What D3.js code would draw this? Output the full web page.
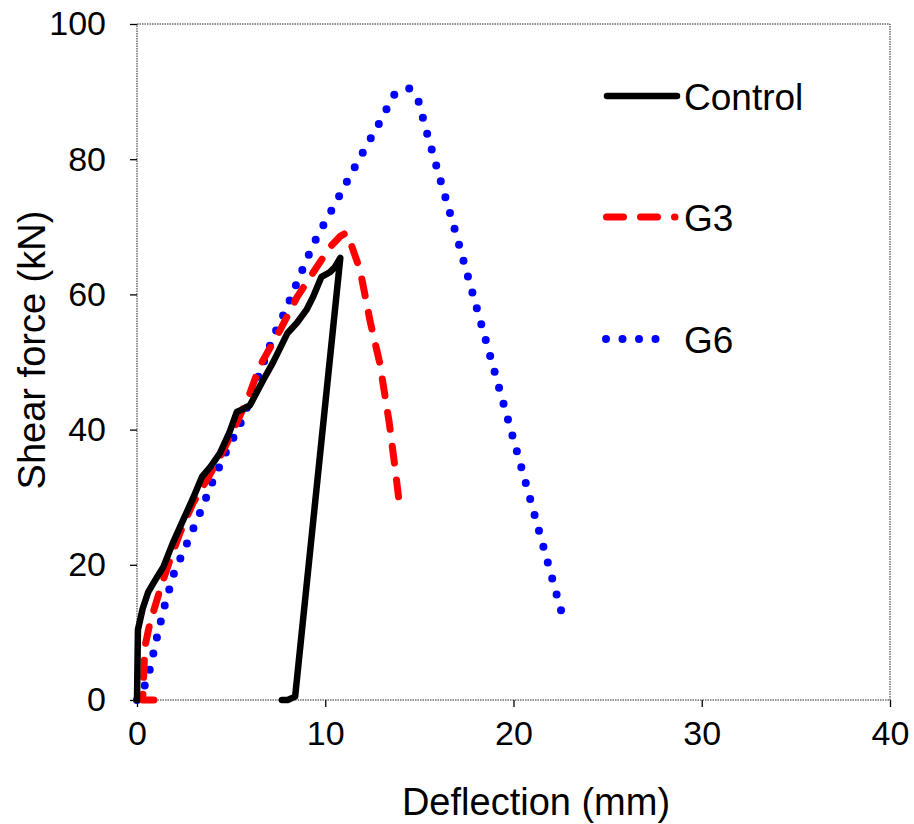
<!DOCTYPE html>
<html>
<head>
<meta charset="utf-8">
<script src="https://cdn.jsdelivr.net/npm/d3@7"></script>
<style>
  body { margin: 0; background: #fff; }
  text { font-family: "Liberation Sans", Arial, sans-serif; fill: #000; }
</style>
</head>
<body>
<div id="chart"></div>
<script>
//////////////////////////// data /////////////////////////////////////////

const seriesNames = ["Control", "G3", "G6"];

// deflection (mm), shear force (kN)
const controlData = [
  [0.0, 0], [0.05, 10.4], [0.3, 13.5], [0.6, 16.0], [0.96, 17.7], [1.4, 19.7],
  [1.9, 23.2], [2.45, 26.6], [3.0, 30.0], [3.45, 33.0], [3.9, 34.5], [4.4, 36.5],
  [4.9, 39.5], [5.3, 42.6], [5.6, 43.0], [6.0, 43.6], [6.7, 47.3], [7.2, 49.8],
  [8.0, 54.3], [8.5, 55.8], [9.0, 57.7], [9.35, 59.6], [9.8, 62.6], [10.25, 63.3],
  [10.5, 64.0], [10.8, 65.4], [8.4, 0.5], [8.0, 0], [7.7, 0]
];

const g3Data = [
  [0.9, 0], [0.3, 0], [0.42, 7.9], [0.69, 11.4], [1.22, 16.3], [1.75, 20.7],
  [2.28, 24.7], [2.97, 29.1], [3.7, 32.5], [4.6, 37.0], [5.3, 41.0], [6.0, 45.4],
  [6.5, 49.3], [7.6, 54.7], [8.5, 59.6], [9.35, 63.2], [10.25, 67.0], [10.8, 68.6],
  [11.1, 69.1], [11.3, 68.0], [11.85, 63.6], [12.4, 55.8], [12.9, 49.8],
  [13.4, 41.0], [13.7, 34.5], [13.9, 29.9]
];

const g6Data = [
  [0.0, 0], [0.42, 2.2], [0.69, 4.6], [1.06, 9.3], [1.49, 14.2], [1.97, 18.8],
  [2.66, 23.2], [3.35, 27.7], [4.0, 32.2], [4.73, 36.7], [5.42, 40.4],
  [6.06, 44.8], [6.64, 49.3], [7.28, 54.0], [7.9, 57.7], [8.55, 62.1],
  [9.24, 66.6], [9.6, 68.7], [10.5, 73.3], [11.5, 78.5], [12.3, 82.5],
  [12.9, 85.5], [13.65, 89.5], [14.45, 90.5], [14.93, 88.8], [15.4, 83.9],
  [16.15, 76.6], [16.9, 69.4], [18.8, 50.5], [20.77, 30.9], [22.7, 11.5]
];

const xTicks = [0, 10, 20, 30, 40];
const yTicks = [0, 20, 40, 60, 80, 100];

//////////////////////////// sizes ///////////////////////////////////////

const width = 914;
const height = 824;
const margin = { top: 24, right: 24, bottom: 124, left: 137 };
const boundedWidth = width - margin.left - margin.right;
const boundedHeight = height - margin.top - margin.bottom;

const svg = d3.select("#chart").append("svg")
  .attr("width", width)
  .attr("height", height);

const bounds = svg.append("g")
  .attr("transform", `translate(${margin.left},${margin.top})`);

//////////////////////////// scales ///////////////////////////////////////

const xScale = d3.scaleLinear().domain([0, 40]).range([0, boundedWidth]);
const yScale = d3.scaleLinear().domain([0, 100]).range([boundedHeight, 0]);

//////////////////////////// frame + axes //////////////////////////////////

bounds.append("rect")
  .attr("x", 0).attr("y", 0)
  .attr("width", boundedWidth).attr("height", boundedHeight)
  .attr("fill", "none")
  .attr("stroke", "#222")
  .attr("stroke-width", 1)
  .attr("stroke-dasharray", "1.5,1");

const xAxis = bounds.append("g")
  .attr("transform", `translate(0,${boundedHeight})`)
  .call(d3.axisBottom(xScale).tickValues(xTicks).tickSize(7).tickPadding(14));

const yAxis = bounds.append("g")
  .call(d3.axisLeft(yScale).tickValues(yTicks).tickSize(7).tickPadding(24));

[xAxis, yAxis].forEach((ax) => {
  ax.select(".domain").remove();
  ax.selectAll(".tick line").attr("stroke", "#000").attr("stroke-width", 1.3);
  ax.selectAll(".tick text")
    .attr("font-size", 34)
    .attr("font-family", "'Liberation Sans', Arial, sans-serif")
    .attr("fill", "#000");
});

svg.append("text")
  .attr("x", 536)
  .attr("y", 815)
  .attr("text-anchor", "middle")
  .attr("font-size", 38)
  .text("Deflection (mm)");

svg.append("text")
  .attr("transform", `translate(45,350) rotate(-90)`)
  .attr("text-anchor", "middle")
  .attr("font-size", 38)
  .text("Shear force (kN)");

//////////////////////////// lines ////////////////////////////////////////

const line = d3.line()
  .x((d) => xScale(d[0]))
  .y((d) => yScale(d[1]));

const styles = {
  Control: { color: "#000", width: 6.5, dash: null },
  G3: { color: "#ff0000", width: 7, dash: "17,17" },
  G6: { color: "#0000ff", width: 8, dash: "0,16.5" }
};

const series = [
  { name: "Control", values: controlData },
  { name: "G3", values: g3Data },
  { name: "G6", values: g6Data }
];

// draw G6 first, then G3, Control on top
[series[2], series[1], series[0]].forEach((s) => {
  const st = styles[s.name];
  bounds.append("path")
    .datum(s.values)
    .attr("d", line)
    .attr("fill", "none")
    .attr("stroke", st.color)
    .attr("stroke-width", st.width)
    .attr("stroke-linecap", "round")
    .attr("stroke-linejoin", "round")
    .attr("stroke-dasharray", st.dash);
});

//////////////////////////// legend ///////////////////////////////////////

const legendY = [96, 217, 339];
const legendX1 = [607, 606.5, 606];
const legendX2 = [677, 675, 660];
const legend = svg.append("g");

seriesNames.forEach((name, i) => {
  const st = styles[name];
  const g = legend.append("g").attr("transform", `translate(0,${legendY[i]})`);
  g.append("line")
    .attr("x1", legendX1[i])
    .attr("x2", legendX2[i])
    .attr("stroke", st.color)
    .attr("stroke-width", st.width)
    .attr("stroke-linecap", "round")
    .attr("stroke-dasharray", st.dash);
  g.append("text")
    .attr("x", 684)
    .attr("y", 14)
    .attr("font-size", 37)
    .text(name);
});
</script>
</body>
</html>
